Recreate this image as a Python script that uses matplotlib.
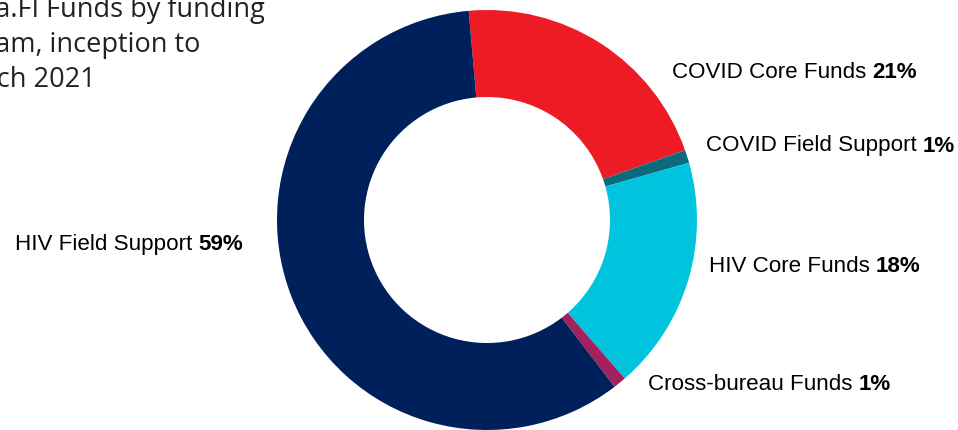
"""Donut chart: Meta.FI funds by funding stream, inception to March 2021"""

import matplotlib.pyplot as plt

# Funding streams, clockwise from the top
streams = [
    "COVID Core Funds",
    "COVID Field Support",
    "HIV Core Funds",
    "Cross-bureau Funds",
    "HIV Field Support",
]
shares = [21, 1, 18, 1, 59]
colors = ["#ED1C24", "#0B6A7E", "#00C4DE", "#A2225F", "#00205C"]

title_lines = ["Meta.FI Funds by funding", "stream, inception to", "March 2021"]

# label anchor (left x, vertical centre y) in pixels from the top-left corner
label_pos = [(672, 72), (706, 146), (709, 266), (648, 385), (243, 245)]
label_ha = ["left", "left", "left", "left", "right"]

W, H = 958, 431
fig = plt.figure(figsize=(W / 100, H / 100), dpi=100)
ax = fig.add_axes([0, 0, 1, 1])

# donut
ax.pie(
    shares,
    colors=colors,
    startangle=95,
    counterclock=False,
    center=(487, H - 221),
    radius=210,
    frame=True,
    wedgeprops=dict(width=87, edgecolor="none", linewidth=0, antialiased=True),
)
ax.set_xlim(0, W)
ax.set_ylim(0, H)
ax.set_aspect("equal")
ax.axis("off")

# labels: name in regular, percentage in bold
lab_font = "Liberation Sans"
fs = 16.1
for name, pct, (x, y), ha in zip(streams, shares, label_pos, label_ha):
    if ha == "left":
        t = ax.text(x, H - y, name + " ", fontsize=fs, family=lab_font,
                    ha="left", va="center", color="black")
        ax.annotate(f"{pct}%", xy=(1, 0.5), xycoords=t, fontsize=fs,
                    family=lab_font, fontweight="bold", ha="left", va="center")
    else:
        t = ax.text(x, H - y, f"{pct}%", fontsize=fs, family=lab_font,
                    fontweight="bold", ha="right", va="center", color="black")
        ax.annotate(name + " ", xy=(0, 0.5), xycoords=t, fontsize=fs,
                    family=lab_font, ha="right", va="center")

# title, partly cut off on the left as in the original slide
for i, line in enumerate(title_lines):
    ax.text(-54, H - (17 + 35 * i), line, fontsize=19.5, family="Open Sans",
            color="#222222", ha="left", va="baseline")

fig.savefig("out.png", dpi=100)
